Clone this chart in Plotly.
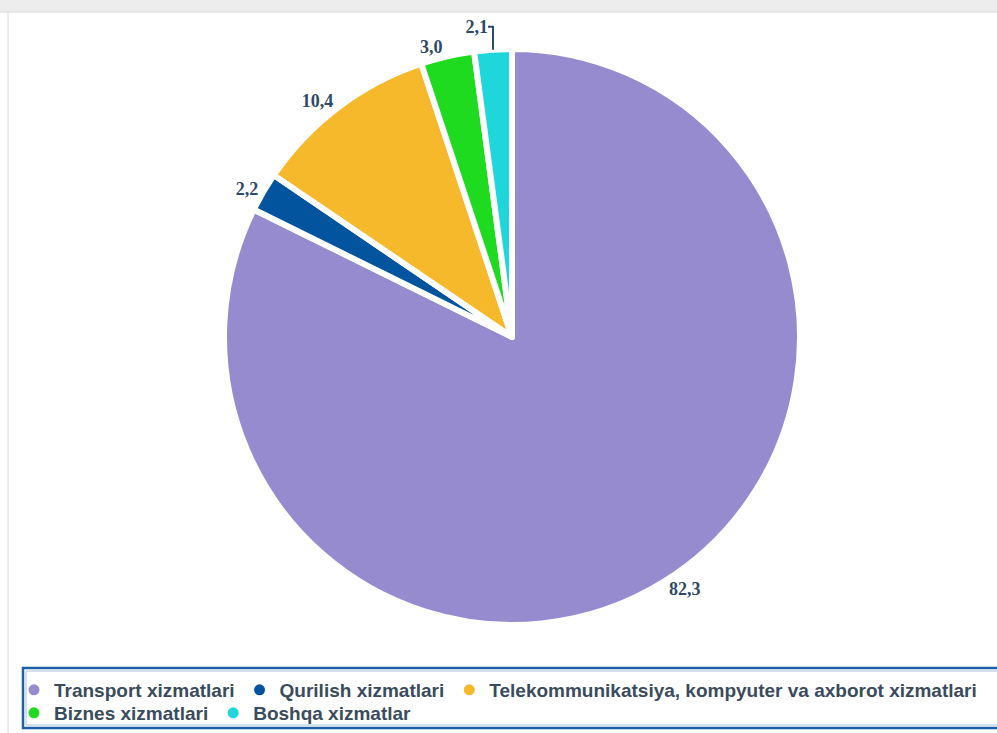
import plotly.graph_objects as go

categories = ["Transport xizmatlari", "Qurilish xizmatlari",
              "Telekommunikatsiya, kompyuter va axborot xizmatlari",
              "Biznes xizmatlari", "Boshqa xizmatlar"]
values = [82.3, 2.2, 10.4, 3.0, 2.1]
colors = ["#978BD0", "#02549F", "#F6B92B", "#1FDB1F", "#1FD6DB"]
legend_rows = ["legend", "legend", "legend", "legend2", "legend2"]

W, H = 997, 733
cx, top, D = 512, 49, 288

fig = go.Figure()
fig.add_trace(go.Pie(
    labels=categories, values=values, sort=False, direction="clockwise",
    rotation=0, marker=dict(colors=colors, line=dict(color="white", width=6)),
    texttemplate="%{value:.1f}", textposition="outside",
    textfont=dict(family="Liberation Serif", size=18, color="#2E4A66", weight="bold"),
    showlegend=False, hoverinfo="label+value",
    domain=dict(x=[(cx - D) / W, (cx + D) / W], y=[(H - top - 2 * D) / H, (H - top) / H]),
))
for c, col, lg in zip(categories, colors, legend_rows):
    fig.add_trace(go.Scatter(x=[None], y=[None], mode="markers", name=c, legend=lg,
                             marker=dict(symbol="circle", size=11, color=col)))

leg_common = dict(orientation="h", xanchor="left", yanchor="middle",
                  borderwidth=0, bgcolor="rgba(0,0,0,0)", itemwidth=30,
                  font=dict(family="Liberation Sans", size=19, color="#3A4B5C", weight="bold"))

fig.update_layout(
    width=W, height=H, separators=", ",
    margin=dict(l=0, r=0, t=0, b=0),
    paper_bgcolor="white", plot_bgcolor="white",
    xaxis=dict(visible=False), yaxis=dict(visible=False),
    legend=dict(x=14 / W, y=(H - 690) / H, **leg_common),
    legend2=dict(x=14 / W, y=(H - 713) / H, **leg_common),
    shapes=[
        dict(type="rect", xref="paper", yref="paper", x0=0, x1=1, y0=1 - 12 / H, y1=1,
             fillcolor="#EDEDED", line=dict(width=0), layer="below"),
        dict(type="line", xref="paper", yref="paper", x0=0, x1=1, y0=1 - 12 / H, y1=1 - 12 / H,
             line=dict(color="#D8D8D8", width=1)),
        dict(type="line", xref="paper", yref="paper", x0=8 / W, x1=8 / W, y0=0, y1=1 - 12 / H,
             line=dict(color="#D8D8D8", width=1)),
        dict(type="rect", xref="paper", yref="paper", x0=23 / W, x1=1 + 6 / W,
             y0=(H - 728) / H, y1=(H - 668) / H, line=dict(color="#1F5FA8", width=2.5)),
        dict(type="rect", xref="paper", yref="paper", x0=26 / W, x1=1 + 6 / W,
             y0=(H - 725) / H, y1=(H - 671) / H, line=dict(color="#A9C2DF", width=1)),
    ],
)
fig.write_html("out.html", config={"displayModeBar": False},
               post_script="document.body.style.margin='0';")
